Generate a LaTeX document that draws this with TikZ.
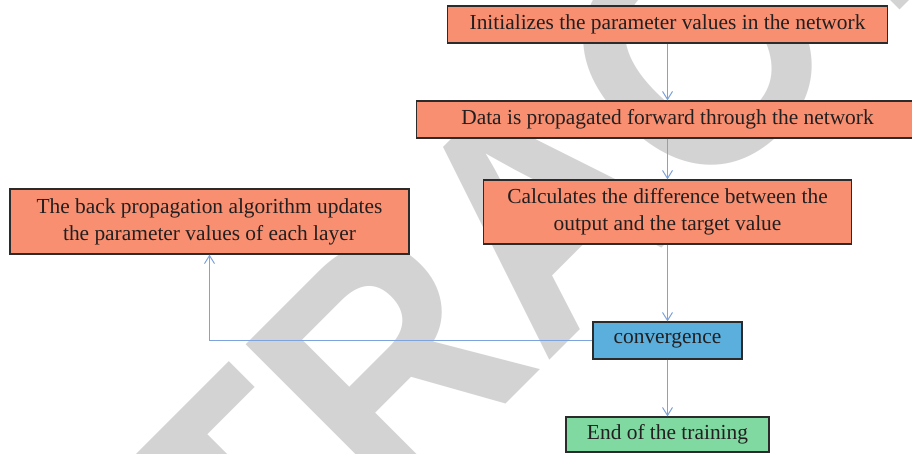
\documentclass[tikz,border=0pt]{standalone}
\usepackage{fontspec}
\setmainfont{Liberation Serif}
\newfontfamily\wmfont{Liberation Sans}
\usetikzlibrary{arrows.meta}
\definecolor{salmonfill}{HTML}{F88F70}
\definecolor{bluefill}{HTML}{5AAFDC}
\definecolor{greenfill}{HTML}{80D9A1}
\definecolor{boxline}{HTML}{2B2B2B}
\definecolor{arrowcol}{HTML}{7DA2DC}
\definecolor{wmgray}{HTML}{D3D3D3}
\definecolor{textcol}{HTML}{231F20}
\tikzset{
  box/.style={draw=boxline, line width=1.3pt, text=textcol, align=center, inner sep=0pt,
    font=\fontsize{21.4}{27}\selectfont},
  orangebox/.style={box, fill=salmonfill},
  bluebox/.style={box, fill=bluefill},
  greenbox/.style={box, fill=greenfill},
  conn/.style={draw=arrowcol, line width=1pt, -{Straight Barb[length=8pt,width=10pt]}},
  wm/.style={anchor=base west, rotate=45, xscale=0.915, inner sep=0pt, text=wmgray,
    font=\wmfont\bfseries\fontsize{328}{328}\selectfont}
}
\begin{document}
\begin{tikzpicture}[x=1pt,y=-1pt]
\clip (0,0) rectangle (912,453);
\fill[white] (0,0) rectangle (912,453);
\node[wm] (wmark) at (-33.5,943.5) {RETRACTED};
\node[orangebox, minimum width=440pt, minimum height=37pt] (init) at (667.5,24.5) {Initializes the parameter values in the network};
\node[orangebox, minimum width=502pt, minimum height=37pt] (fwd) at (667.5,119.5) {Data is propagated forward through the network};
\node[orangebox, minimum width=368pt, minimum height=64pt] (diff) at (667.5,212) {Calculates the difference between the\\output and the target value};
\node[orangebox, minimum width=399pt, minimum height=65pt] (back) at (209.5,221.5) {The back propagation algorithm updates\\the parameter values of each layer};
\node[bluebox, minimum width=149pt, minimum height=37pt] (conv) at (667.5,340.5) {convergence};
\node[greenbox, minimum width=203pt, minimum height=35pt] (end) at (667.5,434.5) {End of the training};
\draw[conn] (init) -- (fwd);
\draw[conn] (fwd) -- (diff);
\draw[conn] (diff) -- (conv);
\draw[conn] (conv) -- (end);
\draw[conn] (conv.west) -| (back.south);
\end{tikzpicture}
\end{document}
